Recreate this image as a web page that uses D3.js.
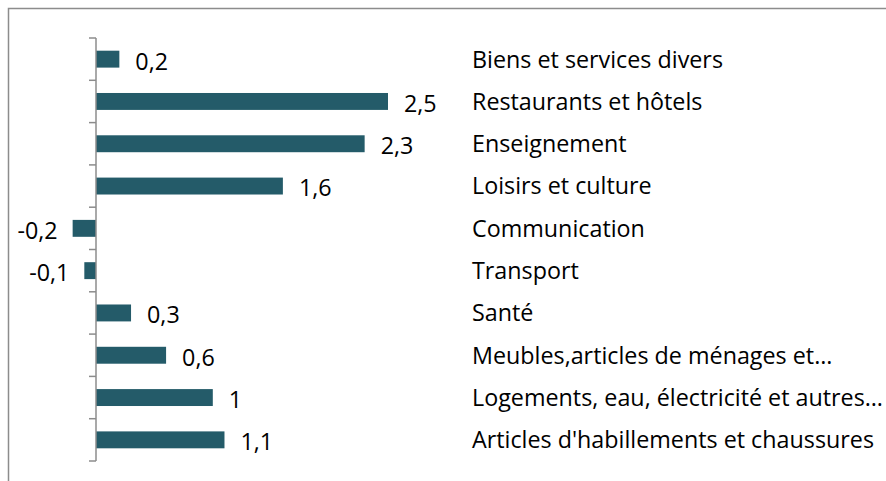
<!DOCTYPE html>
<html>
<head>
<meta charset="utf-8">
<script src="https://cdn.jsdelivr.net/npm/d3@7"></script>
<style>
  html, body { margin: 0; padding: 0; background: #fff; }
  svg { display: block; }
  text { font-family: "Open Sans", Lato, sans-serif; fill: #000; }
</style>
</head>
<body>
<svg id="chart" width="886" height="481"></svg>
<script>
// Categories, top to bottom
const categories = [
  "Biens et services divers",
  "Restaurants et hôtels",
  "Enseignement",
  "Loisirs et culture",
  "Communication",
  "Transport",
  "Santé",
  "Meubles,articles de ménages et…",
  "Logements, eau, électricité et autres…",
  "Articles d'habillements et chaussures"
];
const values = [0.2, 2.5, 2.3, 1.6, -0.2, -0.1, 0.3, 0.6, 1, 1.1];
const valueLabels = ["0,2", "2,5", "2,3", "1,6", "-0,2", "-0,1", "0,3", "0,6", "1", "1,1"];

const data = categories.map((c, i) => ({ cat: c, value: values[i], label: valueLabels[i] }));

const svg = d3.select("#chart");
const W = 886, H = 481;

// Frame around the chart area (extends past the right and bottom edges)
svg.append("rect")
  .attr("x", 8.5).attr("y", 8.5)
  .attr("width", W).attr("height", H)
  .attr("fill", "none")
  .attr("stroke", "#8c8c8c")
  .attr("stroke-width", 1.5);

const x = d3.scaleLinear().domain([0, 2.5]).range([96, 388]);
const y = d3.scaleBand().domain(categories).range([38, 461]).paddingInner(0.6).paddingOuter(0.3);

// Bars
svg.append("g").selectAll("rect")
  .data(data)
  .join("rect")
  .attr("x", d => x(Math.min(0, d.value)))
  .attr("width", d => Math.abs(x(d.value) - x(0)))
  .attr("y", d => y(d.cat))
  .attr("height", y.bandwidth())
  .attr("fill", "#245b69");

// Category axis at x = 0, with tick marks on category boundaries
const axisG = svg.append("g").attr("stroke", "#8c8c8c").attr("stroke-width", 1.5);
axisG.append("line")
  .attr("x1", x(0)).attr("x2", x(0))
  .attr("y1", 38).attr("y2", 461);
const boundaries = d3.range(categories.length + 1).map(i => 38 + i * (423 / categories.length));
axisG.selectAll("line.tick")
  .data(boundaries)
  .join("line")
  .attr("class", "tick")
  .attr("x1", x(0) - 7).attr("x2", x(0))
  .attr("y1", d => d).attr("y2", d => d);

// Value labels next to bar ends
svg.append("g").selectAll("text")
  .data(data)
  .join("text")
  .attr("x", d => d.value >= 0 ? x(d.value) + 16 : x(d.value) - 15)
  .attr("y", d => y(d.cat) + y.bandwidth() / 2 + 2)
  .attr("dy", "0.36em")
  .attr("text-anchor", d => d.value >= 0 ? "start" : "end")
  .attr("font-size", 23.3)
  .text(d => d.label);

// Category names
svg.append("g").selectAll("text")
  .data(data)
  .join("text")
  .attr("x", 472)
  .attr("y", d => y(d.cat) + y.bandwidth() / 2)
  .attr("dy", "0.36em")
  .attr("font-size", 23.3)
  .text(d => d.cat);
</script>
</body>
</html>
